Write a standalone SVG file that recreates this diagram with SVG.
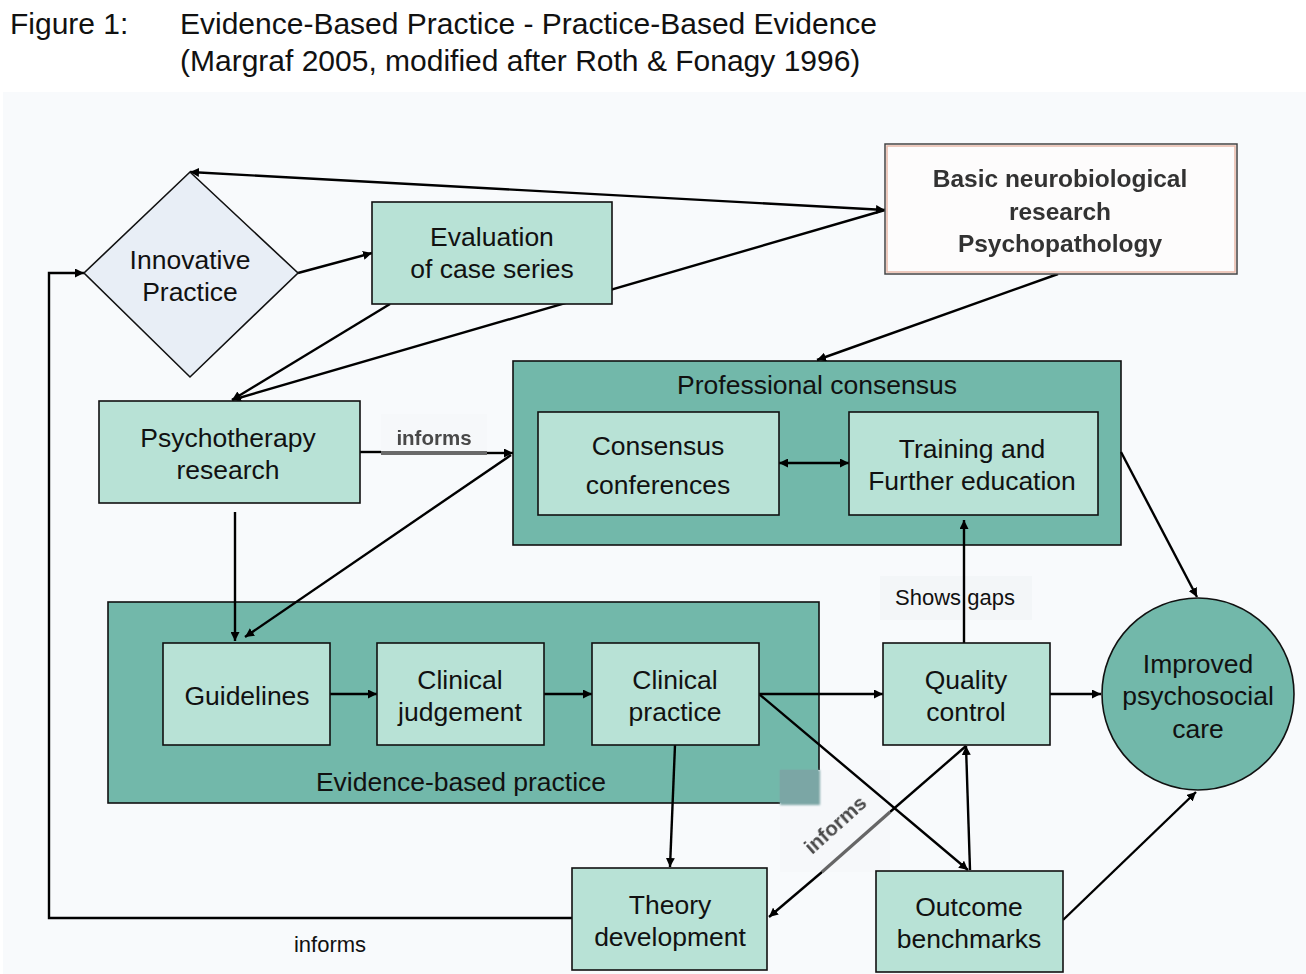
<svg xmlns="http://www.w3.org/2000/svg" width="1306" height="974" viewBox="0 0 1306 974">
<defs>
<marker id="ah" viewBox="0 0 10 10" refX="10" refY="5" markerWidth="9" markerHeight="9" markerUnits="userSpaceOnUse" orient="auto-start-reverse">
<path d="M0,0 L10,5 L0,10 z" fill="#000"/>
</marker>
<filter id="soft" x="-5%" y="-20%" width="110%" height="140%"><feGaussianBlur stdDeviation="0.7"/></filter>
<filter id="shadow" x="-10%" y="-10%" width="130%" height="130%"><feGaussianBlur stdDeviation="1.2"/></filter>
</defs>
<style>
text{font-family:"Liberation Sans",Arial,sans-serif;fill:#111;}
.t{font-size:26.5px;text-anchor:middle;}
.title{font-size:30px;}
.lbl{font-size:22px;text-anchor:middle;}
.node{fill:#b8e2d6;stroke:#111;stroke-width:1.6;}
.cont{fill:#72b8aa;stroke:#111;stroke-width:1.6;}
.ln{stroke:#000;stroke-width:2.4;fill:none;}
.arr{marker-end:url(#ah);}
.blur{font-size:24.5px;font-weight:bold;text-anchor:middle;fill:#333;filter:url(#soft);}
.gl{font-size:20.5px;font-weight:bold;fill:#4a4a4a;filter:url(#soft);}
</style>
<rect x="0" y="0" width="1306" height="974" fill="#ffffff"/>
<rect x="3" y="92" width="1303" height="882" fill="#f8fafc"/>

<g id="title">
<text class="title" x="10" y="34">Figure 1:</text>
<text class="title" x="180" y="34">Evidence-Based Practice - Practice-Based Evidence</text>
<text class="title" x="180" y="71">(Margraf 2005, modified after Roth &amp; Fonagy 1996)</text>
</g>

<g id="professional-consensus">
<rect class="cont" x="513" y="361" width="608" height="184"/>
<text class="t" x="817" y="394">Professional consensus</text>
</g>
<g id="evidence-based-practice">
<rect class="cont" x="108" y="602" width="711" height="201"/>
<text class="t" x="461" y="791">Evidence-based practice</text>
</g>

<g id="label-patch-informs-diag">
<rect x="780" y="770" width="110" height="102" fill="#f6f8fa"/>
<rect x="780" y="770" width="40" height="35" fill="#7ba6a5" filter="url(#shadow)"/>
<rect x="780" y="770" width="38" height="33" fill="#7ba6a5"/>
</g>

<g id="connectors">
<line class="ln" x1="190" y1="172" x2="885" y2="210" marker-start="url(#ah)" marker-end="url(#ah)"/>
<line class="ln arr" x1="885" y1="210" x2="232" y2="400"/>
<line class="ln arr" x1="298" y1="273" x2="372" y2="253"/>
<line class="ln arr" x1="390" y1="304" x2="232" y2="400"/>
<line class="ln arr" x1="1058" y1="274" x2="817" y2="360"/>
<line class="ln" x1="360" y1="452" x2="381" y2="452"/>
<line class="ln arr" x1="487" y1="453" x2="513" y2="453"/>
<line class="ln arr" x1="235" y1="512" x2="235" y2="641"/>
<line class="ln arr" x1="511" y1="455" x2="245" y2="637"/>
<line class="ln" x1="779" y1="463" x2="849" y2="463" marker-start="url(#ah)" marker-end="url(#ah)"/>
<line class="ln arr" x1="330" y1="694" x2="377" y2="694"/>
<line class="ln arr" x1="544" y1="694" x2="592" y2="694"/>
<line class="ln arr" x1="759" y1="694" x2="883" y2="694"/>
<line class="ln arr" x1="759" y1="694" x2="968" y2="870"/>
<line class="ln arr" x1="675" y1="745" x2="670" y2="867"/>
<line class="ln" x1="966" y1="746" x2="890" y2="812"/>
<line x1="890" y1="812" x2="822" y2="872" stroke="#666" stroke-width="3.2"/>
<line class="ln arr" x1="822" y1="872" x2="769" y2="917"/>
<line class="ln arr" x1="970" y1="870" x2="966" y2="746"/>
<line class="ln arr" x1="964" y1="643" x2="964" y2="520"/>
<line class="ln arr" x1="1050" y1="694" x2="1101" y2="694"/>
<line class="ln arr" x1="1121" y1="452" x2="1197" y2="597"/>
<line class="ln arr" x1="1063" y1="920" x2="1196" y2="792"/>
<polyline class="ln arr" points="572,918 49,918 49,273 84,273"/>
</g>

<g id="innovative-practice">
<polygon points="190,172 298,273 190,377 84,273" fill="#e8eef6" stroke="#111" stroke-width="1.6"/>
<text class="t" x="190" y="269">Innovative</text>
<text class="t" x="190" y="301">Practice</text>
</g>
<g id="evaluation-case-series">
<rect class="node" x="372" y="202" width="240" height="102"/>
<text class="t" x="492" y="246">Evaluation</text>
<text class="t" x="492" y="278">of case series</text>
</g>
<g id="basic-research">
<rect x="885" y="144" width="352" height="130" fill="#fdfcfc" stroke="#444" stroke-width="1.5"/>
<rect x="887" y="146" width="348" height="126" fill="none" stroke="#e8b8a8" stroke-width="1.5"/>
<text class="blur" x="1060" y="187">Basic neurobiological</text>
<text class="blur" x="1060" y="220">research</text>
<text class="blur" x="1060" y="252">Psychopathology</text>
</g>
<g id="psychotherapy-research">
<rect class="node" x="99" y="401" width="261" height="102"/>
<text class="t" x="228" y="447">Psychotherapy</text>
<text class="t" x="228" y="479">research</text>
</g>
<g id="label-informs-top">
<rect x="381" y="414" width="106" height="38" fill="#f6f8fa"/>
<rect x="381" y="451" width="106" height="4" fill="#6a6a6a"/>
<text class="gl" x="434" y="445" text-anchor="middle">informs</text>
</g>
<g id="consensus-conferences">
<rect class="node" x="538" y="412" width="241" height="103"/>
<text class="t" x="658" y="455">Consensus</text>
<text class="t" x="658" y="494">conferences</text>
</g>
<g id="training">
<rect class="node" x="849" y="412" width="249" height="103"/>
<text class="t" x="972" y="458">Training and</text>
<text class="t" x="972" y="490">Further education</text>
</g>
<g id="guidelines">
<rect class="node" x="163" y="643" width="167" height="102"/>
<text class="t" x="247" y="705">Guidelines</text>
</g>
<g id="clinical-judgement">
<rect class="node" x="377" y="643" width="167" height="102"/>
<text class="t" x="460" y="689">Clinical</text>
<text class="t" x="460" y="721">judgement</text>
</g>
<g id="clinical-practice">
<rect class="node" x="592" y="643" width="167" height="102"/>
<text class="t" x="675" y="689">Clinical</text>
<text class="t" x="675" y="721">practice</text>
</g>
<g id="quality-control">
<rect class="node" x="883" y="643" width="167" height="102"/>
<text class="t" x="966" y="689">Quality</text>
<text class="t" x="966" y="721">control</text>
</g>
<g id="label-shows-gaps">
<rect x="880" y="576" width="152" height="44" fill="#f3f6f8"/>
<line x1="964" y1="576" x2="964" y2="620" stroke="#000" stroke-width="2.4"/>
<text class="lbl" x="955" y="605">Shows gaps</text>
</g>
<g id="improved-care">
<circle cx="1198" cy="694" r="96" fill="#72b8aa" stroke="#111" stroke-width="1.6"/>
<text class="t" x="1198" y="673">Improved</text>
<text class="t" x="1198" y="705">psychosocial</text>
<text class="t" x="1198" y="738">care</text>
</g>
<g id="theory-development">
<rect class="node" x="572" y="868" width="195" height="102"/>
<text class="t" x="670" y="914">Theory</text>
<text class="t" x="670" y="946">development</text>
</g>
<g id="outcome-benchmarks">
<rect class="node" x="876" y="871" width="187" height="101"/>
<text class="t" x="969" y="916">Outcome</text>
<text class="t" x="969" y="948">benchmarks</text>
</g>
<g id="label-informs-diag">
<text class="gl" x="0" y="0" text-anchor="middle" transform="translate(840,830) rotate(-42)">informs</text>
</g>
<g id="label-informs-bottom">
<text class="lbl" x="330" y="952">informs</text>
</g>
</svg>
